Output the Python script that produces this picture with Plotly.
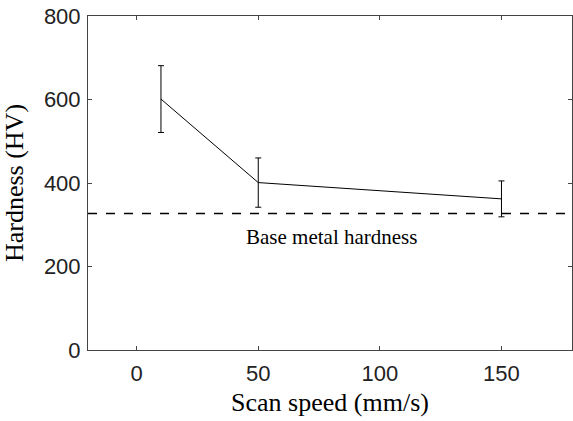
import plotly.graph_objects as go

speed = [10, 50, 150]
hardness = [601, 401, 362]
err = [80, 59, 43]
base_hardness = 327
x_ticks = [0, 50, 100, 150]
y_ticks = [0, 200, 400, 600, 800]

fig = go.Figure()
fig.add_trace(go.Scatter(
    x=[-20, 179], y=[base_hardness, base_hardness], mode="lines",
    line=dict(color="black", width=1.5, dash="dash"), showlegend=False, hoverinfo="skip"))
fig.add_trace(go.Scatter(
    x=speed, y=hardness, mode="lines",
    line=dict(color="black", width=1),
    error_y=dict(type="data", array=err, visible=True, color="black", thickness=1, width=3),
    showlegend=False))

fig.add_annotation(x=80, y=271, text="Base metal hardness", showarrow=False,
                   font=dict(family="Liberation Serif", size=21, color="black"))

axis_common = dict(showline=True, linecolor="#444", linewidth=1, mirror="ticks",
                   ticks="inside", ticklen=4, tickcolor="#444", showgrid=False, zeroline=False,
                   automargin=False,
                   tickfont=dict(family="Liberation Sans", size=22, color="#222"))
fig.update_xaxes(range=[-20, 179], tickvals=x_ticks, ticklabelstandoff=4,
                 title=dict(text="Scan speed (mm/s)", font=dict(family="Liberation Serif", size=26, color="black"), standoff=7),
                 **axis_common)
fig.update_yaxes(range=[0, 800], tickvals=y_ticks, ticklabelstandoff=2,
                 title=dict(text="Hardness (HV)", font=dict(family="Liberation Serif", size=26, color="black"), standoff=17),
                 **axis_common)
fig.update_layout(width=573, height=421, margin=dict(l=88, r=1, t=16, b=71),
                  plot_bgcolor="white", paper_bgcolor="white")
fig.write_html("out.html", config={"displayModeBar": False},
               post_script="document.body.style.margin='0';")
